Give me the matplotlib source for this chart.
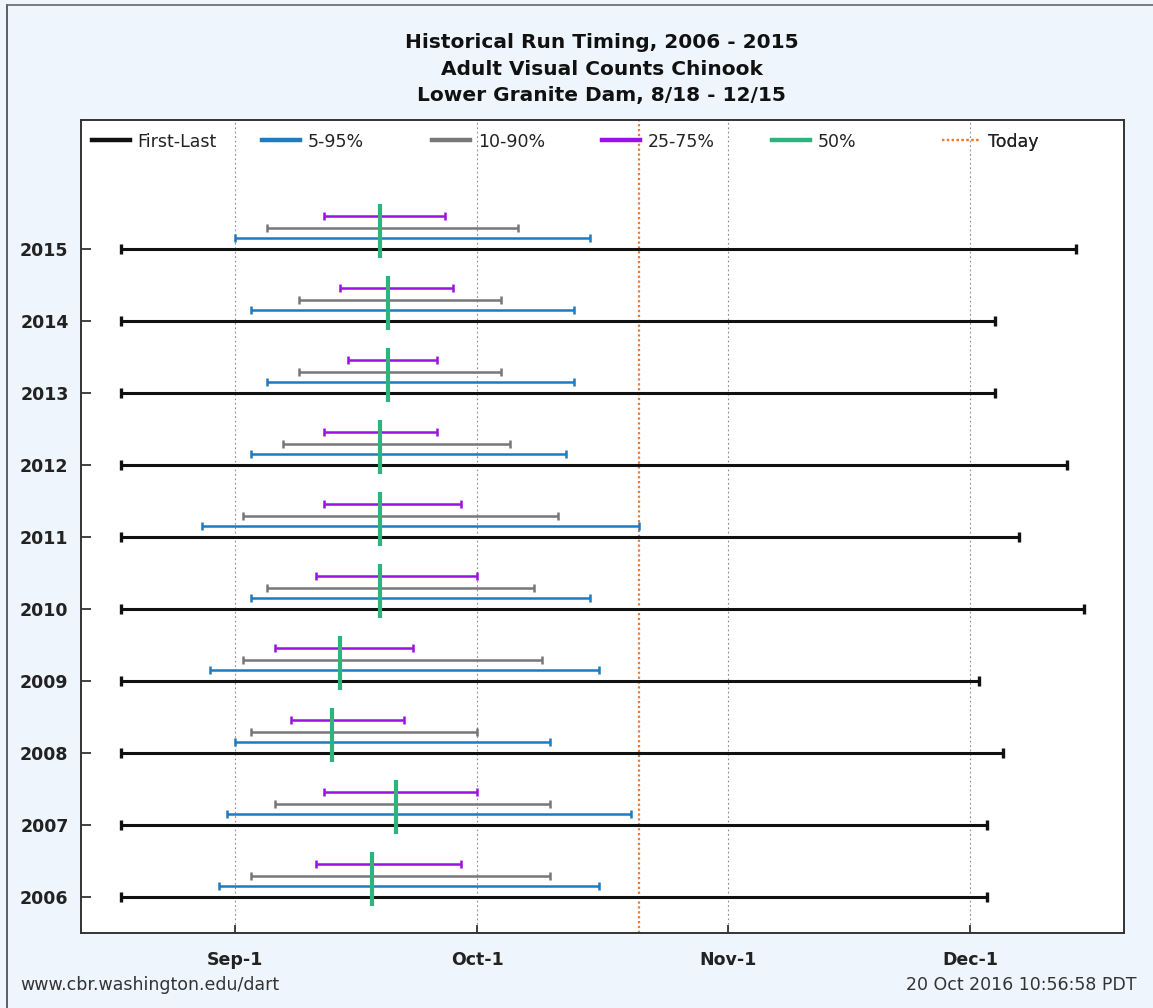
import numpy as np
import matplotlib
matplotlib.use("Agg")
import matplotlib.pyplot as plt
from matplotlib.lines import Line2D

# Run timing by year (dates as MM-DD within the counting season)
years = [2006, 2007, 2008, 2009, 2010, 2011, 2012, 2013, 2014, 2015]
first = ["08-18"] * 10
last = ["12-03", "12-03", "12-05", "12-02", "12-15", "12-07", "12-13", "12-04", "12-04", "12-14"]
p05 = ["08-30", "08-31", "09-01", "08-29", "09-03", "08-28", "09-03", "09-05", "09-03", "09-01"]
p95 = ["10-16", "10-20", "10-10", "10-16", "10-15", "10-21", "10-12", "10-13", "10-13", "10-15"]
p10 = ["09-03", "09-06", "09-03", "09-02", "09-05", "09-02", "09-07", "09-09", "09-09", "09-05"]
p90 = ["10-10", "10-10", "10-01", "10-09", "10-08", "10-11", "10-05", "10-04", "10-04", "10-06"]
p25 = ["09-11", "09-12", "09-08", "09-06", "09-11", "09-12", "09-12", "09-15", "09-14", "09-12"]
p75 = ["09-29", "10-01", "09-22", "09-23", "10-01", "09-29", "09-26", "09-26", "09-28", "09-27"]
p50 = ["09-18", "09-21", "09-13", "09-14", "09-19", "09-19", "09-19", "09-20", "09-20", "09-19"]
today = "10-21"

season_start = "08-13"
season_end = "12-20"
month_ticks = ["09-01", "10-01", "11-01", "12-01"]
month_labels = ["Sep-1", "Oct-1", "Nov-1", "Dec-1"]

title_lines = ["Historical Run Timing, 2006 - 2015",
               "Adult Visual Counts Chinook",
               "Lower Granite Dam, 8/18 - 12/15"]


def to_day(md):
    """Days after Sep 1 for an MM-DD string (or list of them)."""
    ref = np.datetime64("2015-09-01")
    if isinstance(md, str):
        return int((np.datetime64("2015-" + md) - ref).astype(int))
    return np.array([to_day(s) for s in md])


C_BLACK = "#111111"
C_BLUE = "#1f7bbd"
C_GRAY = "#777777"
C_PURPLE = "#9b10e6"
C_GREEN = "#2db47c"
C_TODAY = "#ef7b2a"
BG = "#eef5fc"

plt.rcParams["font.family"] = ["DejaVu Sans"]

fig = plt.figure(figsize=(11.53, 10.08), dpi=100, facecolor=BG)
ax = fig.add_axes([0.0703, 0.0744, 0.9046, 0.807])
ax.set_facecolor("white")

y = np.array(years, dtype=float)


def span(lo, hi, dy, color, lw, ms, mew):
    xs_lo, xs_hi = to_day(lo), to_day(hi)
    for a, b, yy in zip(xs_lo, xs_hi, y + dy):
        ax.plot([a, b], [yy, yy], color=color, lw=lw, solid_capstyle="butt",
                marker="|", markersize=ms, markeredgewidth=mew, zorder=3)


span(first, last, 0.0, C_BLACK, 2.2, 7, 2.4)
span(p05, p95, 0.155, C_BLUE, 1.8, 6, 1.8)
span(p10, p90, 0.29, C_GRAY, 1.8, 6, 1.8)
span(p25, p75, 0.455, C_PURPLE, 1.8, 6, 1.8)
ax.vlines(to_day(p50), y - 0.125, y + 0.625, color=C_GREEN, lw=3.0, zorder=4)

# today marker
ax.axvline(to_day(today), color=C_TODAY, lw=1.6, ls=(0, (1, 1.2)), zorder=2)

# month grid
for t in to_day(month_ticks):
    ax.axvline(t, color="#8a8a8a", lw=0.8, ls=(0, (1.5, 2.5)), zorder=1)

ax.set_xlim(to_day(season_start), to_day(season_end))
ax.set_ylim(2005.5, 2016.8)
ax.set_xticks(to_day(month_ticks))
ax.set_xticklabels(month_labels, fontsize=12.5, fontweight="bold")
ax.set_yticks(years)
ax.set_yticklabels([str(v) for v in years], fontsize=12.5, fontweight="bold")
ax.tick_params(axis="x", direction="in", length=6, width=1.2, pad=13, colors="#222222")
ax.tick_params(axis="y", direction="in", length=7, width=1.2, pad=9, colors="#222222")
for s in ax.spines.values():
    s.set_color("#333333")
    s.set_linewidth(1.4)

# legend row across the top of the plot
entries = [
    (Line2D([], [], color=C_BLACK, lw=3.2), "First-Last"),
    (Line2D([], [], color=C_BLUE, lw=3.2), "5-95%"),
    (Line2D([], [], color=C_GRAY, lw=3.2), "10-90%"),
    (Line2D([], [], color=C_PURPLE, lw=3.2), "25-75%"),
    (Line2D([], [], color=C_GREEN, lw=3.2), "50%"),
    (Line2D([], [], color=C_TODAY, lw=1.6, ls=(0, (1, 1.2))), "Today"),
]
for i, (h, lab) in enumerate(entries):
    leg = ax.legend([h], [lab], loc="center left",
                    bbox_to_anchor=((100 + 170 * i - 81) / 1043 - 0.008, 0.973),
                    frameon=False, fontsize=12.5, handlelength=2.2,
                    handletextpad=0.45, borderaxespad=0, borderpad=0)
    for t in leg.get_texts():
        t.set_color("#222222")
    ax.add_artist(leg)

for i, line in enumerate(title_lines):
    fig.text(0.522, 1 - (43 + 26.5 * i) / 1008, line, ha="center", va="center",
             fontsize=14.5, fontweight="bold", color="#111111")

fig.text(20 / 1153, 1 - 985 / 1008, "www.cbr.washington.edu/dart", ha="left",
         va="center", fontsize=12.5, color="#333333")
fig.text(1136 / 1153, 1 - 985 / 1008, "20 Oct 2016 10:56:58 PDT", ha="right",
         va="center", fontsize=12.5, color="#333333")

# thin frame along the top and left edges of the canvas
fig.add_artist(Line2D([7 / 1153, 7 / 1153], [0, 1 - 5 / 1008], color="#444444", lw=1.2))
fig.add_artist(Line2D([7 / 1153, 1], [1 - 5 / 1008, 1 - 5 / 1008], color="#666666", lw=1.2))

fig.savefig("out.png", dpi=100, facecolor=BG)
